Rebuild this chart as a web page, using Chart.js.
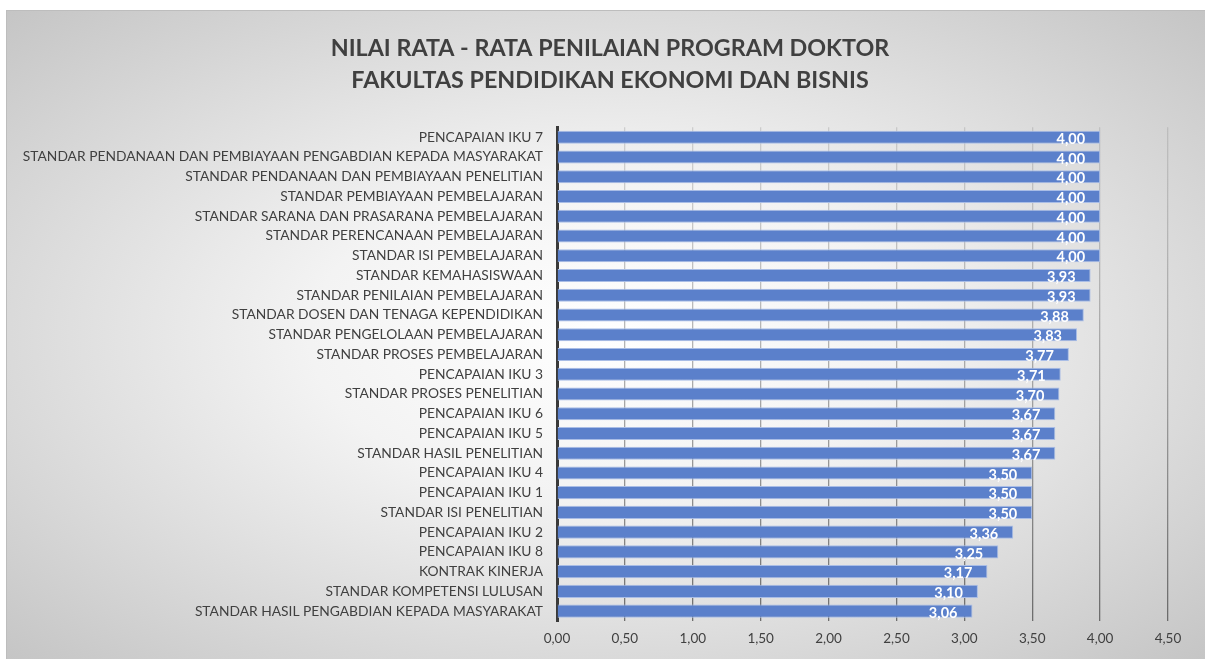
<!DOCTYPE html>
<html>
<head>
<meta charset="utf-8">
<script src="https://cdn.jsdelivr.net/npm/chart.js@4"></script>
<style>
  body { margin: 0; background: #fff; }
  #box {
    position: absolute; left: 6px; top: 10px; width: 1199px; height: 649px;
    box-sizing: border-box;
    border-top: 1px solid #bdbdbd; border-left: 1px solid #bdbdbd;
    background: radial-gradient(ellipse farthest-corner at 50% 50%, #ffffff 0%, #f3f3f3 35%, #c5c5c5 100%);
  }
</style>
</head>
<body>
<div id="box"><canvas id="chart" width="1198" height="648"></canvas></div>
<script>
const titleLines = ['NILAI RATA - RATA PENILAIAN PROGRAM DOKTOR', 'FAKULTAS PENDIDIKAN EKONOMI DAN BISNIS'];

const categories = [
  'PENCAPAIAN IKU 7',
  'STANDAR PENDANAAN DAN PEMBIAYAAN PENGABDIAN KEPADA MASYARAKAT',
  'STANDAR PENDANAAN DAN PEMBIAYAAN PENELITIAN',
  'STANDAR PEMBIAYAAN PEMBELAJARAN',
  'STANDAR SARANA DAN PRASARANA PEMBELAJARAN',
  'STANDAR PERENCANAAN PEMBELAJARAN',
  'STANDAR ISI PEMBELAJARAN',
  'STANDAR KEMAHASISWAAN',
  'STANDAR PENILAIAN PEMBELAJARAN',
  'STANDAR DOSEN DAN TENAGA KEPENDIDIKAN',
  'STANDAR PENGELOLAAN PEMBELAJARAN',
  'STANDAR PROSES PEMBELAJARAN',
  'PENCAPAIAN IKU 3',
  'STANDAR PROSES PENELITIAN',
  'PENCAPAIAN IKU 6',
  'PENCAPAIAN IKU 5',
  'STANDAR HASIL PENELITIAN',
  'PENCAPAIAN IKU 4',
  'PENCAPAIAN IKU 1',
  'STANDAR ISI PENELITIAN',
  'PENCAPAIAN IKU 2',
  'PENCAPAIAN IKU 8',
  'KONTRAK KINERJA',
  'STANDAR KOMPETENSI LULUSAN',
  'STANDAR HASIL PENGABDIAN KEPADA MASYARAKAT'
];

const nilai = [4.00, 4.00, 4.00, 4.00, 4.00, 4.00, 4.00, 3.93, 3.93, 3.88, 3.83, 3.77, 3.71, 3.70,
  3.67, 3.67, 3.67, 3.50, 3.50, 3.50, 3.36, 3.25, 3.17, 3.10, 3.06];

const xMin = 0, xMax = 4.5, xStep = 0.5;

const fontFamily = 'Lato, "Open Sans", sans-serif';
const textColor = '#404040';

function fmt(v) {
  return v.toFixed(2).replace('.', ',');
}

// label nilai di ujung dalam batang
const valueLabels = {
  id: 'valueLabels',
  afterDatasetsDraw(chart) {
    const ctx = chart.ctx;
    const meta = chart.getDatasetMeta(0);
    ctx.save();
    ctx.font = 'bold 14.5px ' + fontFamily;
    ctx.fillStyle = '#ffffff';
    ctx.textAlign = 'right';
    ctx.textBaseline = 'middle';
    meta.data.forEach((bar, i) => {
      ctx.fillText(fmt(nilai[i]), bar.x - 15, bar.y + 2);
    });
    ctx.restore();
  }
};

function gridColor(context) {
  const area = context.chart.chartArea;
  if (!area) return 'rgba(120,120,120,0.6)';
  const g = context.chart.ctx.createLinearGradient(0, area.top, 0, area.bottom);
  g.addColorStop(0, 'rgba(150,150,150,0.35)');
  g.addColorStop(1, 'rgba(90,90,90,0.85)');
  return g;
}

const ctx = document.getElementById('chart').getContext('2d');
new Chart(ctx, {
  type: 'bar',
  data: {
    labels: categories,
    datasets: [{
      data: nilai,
      backgroundColor: '#5b80cb',
      borderColor: '#a9bde6',
      borderWidth: 1,
      borderSkipped: 'start',
      barPercentage: 0.66,
      categoryPercentage: 1
    }]
  },
  options: {
    indexAxis: 'y',
    responsive: false,
    animation: false,
    layout: { padding: { left: 8, right: 0, top: 0, bottom: 0 } },
    plugins: {
      legend: { display: false },
      tooltip: { enabled: false },
      title: {
        display: true,
        text: titleLines,
        color: textColor,
        font: { family: fontFamily, size: 23.3, weight: 'bold', lineHeight: 1.38 },
        padding: { top: 21, bottom: 31 }
      }
    },
    scales: {
      x: {
        min: xMin,
        max: xMax,
        ticks: {
          stepSize: xStep,
          color: textColor,
          padding: 10,
          font: { family: fontFamily, size: 13.5 },
          callback: v => fmt(v)
        },
        grid: { color: gridColor, lineWidth: 1.3, drawTicks: false },
        border: { display: false },
        afterFit: s => { s.height = 38; }
      },
      y: {
        ticks: {
          color: textColor,
          autoSkip: false,
          padding: 14,
          font: { family: fontFamily, size: 13.8 }
        },
        grid: { display: false, drawTicks: false },
        border: { color: '#3a3a3a', width: 3 },
        afterFit: s => { s.width = 542; }
      },
      yKanan: {
        type: 'category',
        position: 'right',
        ticks: { display: false },
        grid: { display: false, drawTicks: false },
        border: { display: false },
        afterFit: s => { s.width = 37; }
      }
    }
  },
  plugins: [valueLabels]
});
</script>
</body>
</html>
